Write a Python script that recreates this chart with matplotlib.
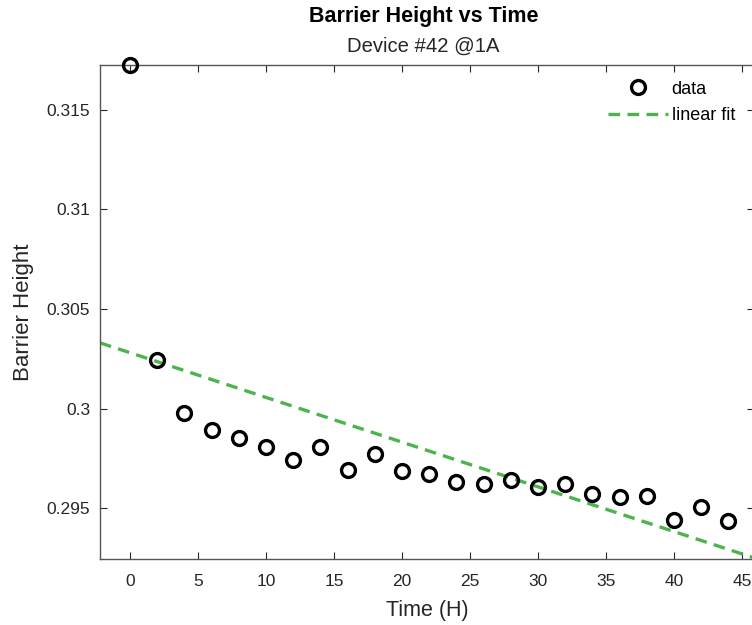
import numpy as np
import matplotlib
matplotlib.use("Agg")
import matplotlib.pyplot as plt

plt.rcParams['font.family'] = ['Liberation Sans', 'DejaVu Sans']

# Barrier height readings every 2 hours
time_h = np.arange(0, 46, 2)
barrier = [0.31726, 0.30244, 0.29980, 0.29894, 0.29854, 0.29809, 0.29739,
           0.29809, 0.29693, 0.29774, 0.29688, 0.29673, 0.29633, 0.29623,
           0.29643, 0.29608, 0.29623, 0.29573, 0.29553, 0.29563, 0.29442,
           0.29505, 0.29437]

xlim = (-2.2, 45.9)
ylim = (0.29244, 0.31726)

# first-order polynomial fit
p = np.polyfit(time_h, barrier, 1)
xfit = np.linspace(xlim[0], xlim[1] + 1, 100)
yfit = np.polyval(p, xfit)

fig = plt.figure(figsize=(7.52, 6.25), dpi=100)
ax = fig.add_axes([0.133, 0.1056, 0.870, 0.7904])

axcol = '#262626'
ax.plot(time_h, barrier, 'o', mfc='none', mec='black', mew=2.4, ms=10,
        label='data', clip_on=False, zorder=3)
ax.plot(xfit, yfit, '--', color='#4db34d', lw=2.4, dashes=(3.5, 2.2),
        label='linear fit')

ax.set_xlim(xlim)
ax.set_ylim(ylim)
ax.set_xticks(np.arange(0, 46, 5))
ax.set_yticks([0.295, 0.3, 0.305, 0.31, 0.315])
ax.set_yticklabels(['0.295', '0.3', '0.305', '0.31', '0.315'])
ax.tick_params(direction='in', top=True, right=True, length=5, width=0.8,
               colors=axcol, labelsize=12.5)
ax.tick_params(axis='x', pad=11)
ax.tick_params(axis='y', pad=7)
for s in ax.spines.values():
    s.set_color('#555555')
    s.set_linewidth(1.0)

ax.set_xlabel('Time (H)', fontsize=15.5, color=axcol, labelpad=7.5)
ax.set_ylabel('Barrier Height', fontsize=16, color=axcol, labelpad=9)

fig.text(0.564, 0.974, 'Barrier Height vs Time', ha='center', va='center',
         fontsize=15.5, fontweight='bold', color='black')
fig.text(0.563, 0.926, 'Device #42 @1A', ha='center', va='center',
         fontsize=14.6, color=axcol)

leg = ax.legend(loc='upper left', frameon=False, fontsize=13,
                bbox_to_anchor=(0.777, 0.968), handlelength=3.3,
                handletextpad=0.2, borderpad=0, borderaxespad=0,
                labelspacing=0.5)

fig.savefig('out.png', dpi=100)
